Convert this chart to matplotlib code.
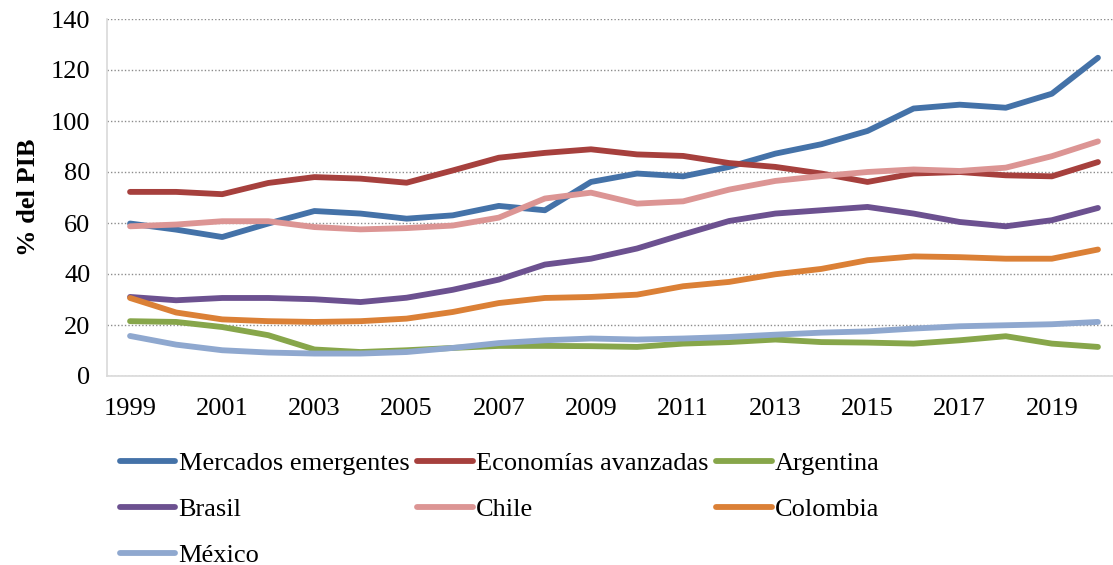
import numpy as np
import matplotlib.pyplot as plt
from matplotlib.ticker import MultipleLocator

# ----- data (% del PIB) -----
years = list(range(1999, 2021))
mercados_emergentes = [59.8, 57.4, 54.5, 59.8, 64.7, 63.7, 61.7, 63.0, 66.7, 65.0, 76.1,
                       79.4, 78.3, 82.0, 87.2, 90.9, 96.1, 104.9, 106.4, 105.2, 110.7, 124.8]
economias_avanzadas = [72.2, 72.2, 71.3, 75.7, 78.0, 77.4, 75.8, 80.6, 85.6, 87.5, 88.9,
                       86.9, 86.3, 83.5, 82.0, 79.4, 76.1, 79.4, 80.0, 78.7, 78.3, 83.9]
argentina = [21.5, 21.2, 19.2, 16.0, 10.4, 9.4, 10.1, 11.0, 11.8, 11.8, 11.7,
             11.4, 12.7, 13.3, 14.3, 13.3, 13.1, 12.7, 14.0, 15.6, 12.7, 11.4]
brasil = [31.0, 29.7, 30.6, 30.6, 30.1, 29.0, 30.7, 33.8, 37.8, 43.7, 46.0,
          50.0, 55.5, 60.8, 63.7, 65.0, 66.3, 63.7, 60.4, 58.7, 61.1, 65.9]
chile = [58.7, 59.4, 60.7, 60.7, 58.4, 57.5, 58.0, 59.0, 62.1, 69.6, 71.9,
         67.6, 68.5, 73.1, 76.5, 78.4, 80.0, 81.0, 80.4, 81.7, 86.2, 92.0]
colombia = [30.6, 24.9, 22.2, 21.5, 21.2, 21.5, 22.5, 25.1, 28.6, 30.6, 31.0,
            31.9, 35.2, 36.9, 39.9, 42.0, 45.4, 46.9, 46.6, 46.0, 46.0, 49.6]
mexico = [15.7, 12.3, 10.1, 9.2, 8.8, 8.8, 9.4, 11.0, 12.9, 14.0, 14.7,
          14.3, 14.7, 15.3, 16.2, 17.0, 17.5, 18.6, 19.5, 19.9, 20.3, 21.2]

series = [
    ("Mercados emergentes", mercados_emergentes, "#4472A8"),
    ("Economías avanzadas", economias_avanzadas, "#A6403D"),
    ("Argentina", argentina, "#87A64A"),
    ("Brasil", brasil, "#6C5190"),
    ("Chile", chile, "#DC9594"),
    ("Colombia", colombia, "#DB8036"),
    ("México", mexico, "#8FA8CF"),
]

plt.rcParams['font.family'] = ['Liberation Serif', 'DejaVu Serif']
plt.rcParams['font.size'] = 19

W, H = 1113, 565
fig = plt.figure(figsize=(W / 100, H / 100), dpi=100)
ax = fig.add_axes([107 / W, (H - 376) / H, (1121 - 107) / W, (376 - 19) / H])

handles = {}
for name, vals, col in series:
    ln, = ax.plot(years, vals, color=col, lw=4.2, solid_capstyle='round',
                  solid_joinstyle='round', label=name)
    handles[name] = ln

ax.set_xlim(1998.5, 2020.5)
ax.set_ylim(0, 140)
ax.yaxis.set_major_locator(MultipleLocator(20))
ax.set_xticks(years[::2])
ax.tick_params(length=0)
ax.tick_params(axis='y', pad=12)
ax.tick_params(axis='x', pad=16)
ax.grid(axis='y', linestyle=(0, (1, 1.5)), color='#8C8C8C', lw=1)
for s in ['top', 'right']:
    ax.spines[s].set_visible(False)
for s in ['left', 'bottom']:
    ax.spines[s].set_color('#D9D9D9')
    ax.spines[s].set_linewidth(1.2)
ax.set_axisbelow(True)
ax.set_ylabel("% del PIB", fontweight='bold', labelpad=8)

# legend laid out row-wise (matplotlib fills columns first)
order = ["Mercados emergentes", "Brasil", "México",
         "Economías avanzadas", "Chile",
         "Argentina", "Colombia"]
fig.legend([handles[n] for n in order], order, ncol=3, frameon=False,
           loc='upper left', bbox_to_anchor=(120 / W, (H - 452) / H),
           borderpad=0, borderaxespad=0, handlelength=2.1, handletextpad=0.12,
           columnspacing=0.3, labelspacing=0.84)

fig.savefig("out.png", dpi=100)
